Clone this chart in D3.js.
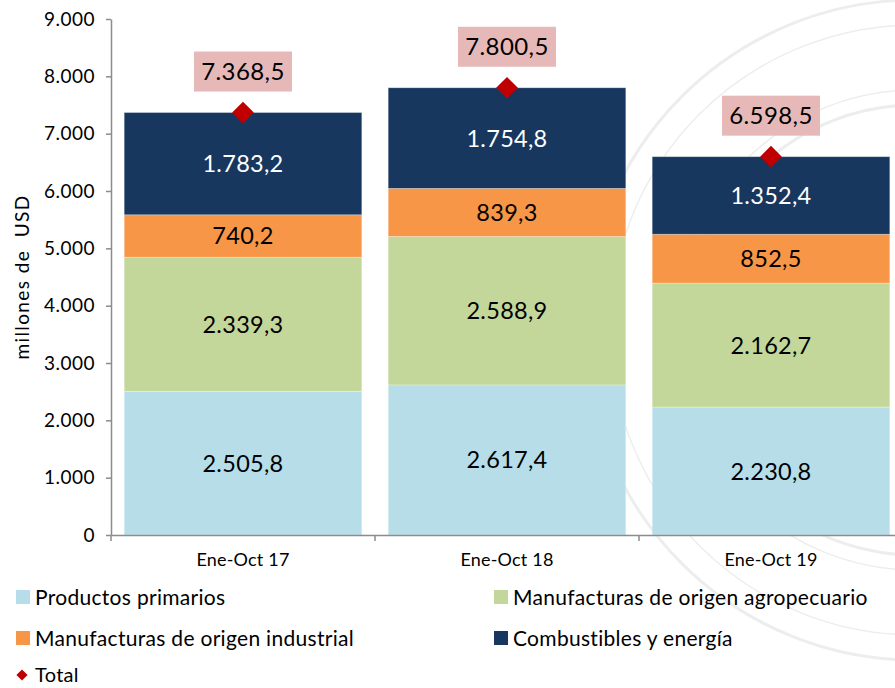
<!DOCTYPE html>
<html>
<head>
<meta charset="utf-8">
<script src="https://cdn.jsdelivr.net/npm/d3@7"></script>
<style>
  html, body { margin: 0; padding: 0; background: #ffffff; }
  svg { display: block; font-family: Lato, "Open Sans", sans-serif; }
</style>
</head>
<body>
<svg id="chart" width="895" height="688"></svg>
<script>
const categories = ["Ene-Oct 17", "Ene-Oct 18", "Ene-Oct 19"];
const seriesNames = ["Productos primarios", "Manufacturas de origen agropecuario", "Manufacturas de origen industrial", "Combustibles y energía"];
const productosPrimarios = [2505.8, 2617.4, 2230.8];
const manufacturasAgro = [2339.3, 2588.9, 2162.7];
const manufacturasIndustrial = [740.2, 839.3, 852.5];
const combustiblesEnergia = [1783.2, 1754.8, 1352.4];
const totals = [7368.5, 7800.5, 6598.5];
const yTicks = [0, 1000, 2000, 3000, 4000, 5000, 6000, 7000, 8000, 9000];

const colors = ["#b7dde8", "#c4d79b", "#f79646", "#17375e"];
const labelColors = ["#000", "#000", "#000", "#fff"];

const svg = d3.select("#chart");

const fmt = d3.formatLocale({decimal: ",", thousands: ".", grouping: [3], currency: ["", ""]});
const f1 = fmt.format(",.1f");
const f0 = fmt.format(",.0f");

// faint watermark seal (decorative)
const wm = svg.append("g").attr("fill", "none").attr("stroke", "#eceeed");
[[330, 3], [305, 1.5], [240, 1.5], [225, 3]].forEach(([r, w]) => {
  wm.append("circle").attr("cx", 915).attr("cy", 330).attr("r", r).attr("stroke-width", w);
});

const x = d3.scaleBand().domain(categories).range([111, 903]).paddingInner(0.1).paddingOuter(0.05);
const y = d3.scaleLinear().domain([0, 9000]).range([535, 19]);

// y axis
const yAxis = d3.axisLeft(y).tickValues(yTicks).tickFormat(d => f0(d)).tickSize(5).tickSizeOuter(0);
const gy = svg.append("g").attr("transform", "translate(111,0)").call(yAxis);
gy.select(".domain").attr("stroke", "#8c8c8c").attr("stroke-width", 1.5);
gy.selectAll(".tick line").attr("stroke", "#8c8c8c").attr("stroke-width", 1.5);
gy.selectAll(".tick text").attr("font-size", 19).attr("letter-spacing", 0.5).attr("fill", "#000").attr("x", -16)
  .attr("font-family", "Lato, sans-serif");

svg.append("text").attr("transform", "translate(29,277) rotate(-90)")
  .attr("text-anchor", "middle").attr("font-size", 19).attr("letter-spacing", 1.4).attr("fill", "#000")
  .attr("xml:space", "preserve").text("millones de  USD");

// stacked bars
const rows = categories.map((c, i) => ({
  cat: c, vals: [productosPrimarios[i], manufacturasAgro[i], manufacturasIndustrial[i], combustiblesEnergia[i]]
}));
const keys = [0, 1, 2, 3];
const stack = d3.stack().keys(keys).value((d, k) => d.vals[k]);
const layers = stack(rows);

layers.forEach((layer, k) => {
  const g = svg.append("g");
  g.selectAll("rect").data(layer).join("rect")
    .attr("x", d => x(d.data.cat))
    .attr("width", x.bandwidth())
    .attr("y", d => y(d[1]))
    .attr("height", d => y(d[0]) - y(d[1]))
    .attr("fill", colors[k])
    .attr("stroke", "#ffffff").attr("stroke-opacity", 0.35).attr("stroke-width", 0.8);
  g.selectAll("text").data(layer).join("text")
    .attr("x", d => x(d.data.cat) + x.bandwidth() / 2)
    .attr("y", d => (y(d[0]) + y(d[1])) / 2)
    .attr("dy", "0.36em")
    .attr("text-anchor", "middle").attr("font-size", 23.5).attr("letter-spacing", 0.3)
    .attr("fill", labelColors[k])
    .text(d => f1(d.data.vals[k]));
});

// x axis
const xAxis = d3.axisBottom(x).tickSize(0).tickSizeOuter(0);
const gx = svg.append("g").attr("transform", "translate(0,535)").call(xAxis);
gx.select(".domain").attr("stroke", "#8c8c8c").attr("stroke-width", 1.5);
gx.selectAll(".tick text").attr("font-size", 18).attr("letter-spacing", 0.2).attr("fill", "#000").attr("dy", 0).attr("y", 31)
  .attr("font-family", "Lato, sans-serif");
const boundaries = [x.range()[0], ...categories.slice(1).map(c => x(c) - x.step() * x.paddingInner() / 2)];
svg.append("g").selectAll("line").data(boundaries).join("line")
  .attr("x1", d => d).attr("x2", d => d).attr("y1", 535).attr("y2", 541)
  .attr("stroke", "#8c8c8c").attr("stroke-width", 1.5);

// total markers & labels
const diamond = d3.symbol().type(d3.symbolDiamond2).size(300);
const tg = svg.append("g");
categories.forEach((c, i) => {
  const cx = x(c) + x.bandwidth() / 2;
  const cy = y(totals[i]);
  tg.append("rect").attr("x", cx - 49).attr("y", cy - 61).attr("width", 98).attr("height", 40)
    .attr("fill", "#e6b9b8");
  tg.append("text").attr("x", cx).attr("y", cy - 41).attr("dy", "0.36em")
    .attr("text-anchor", "middle").attr("font-size", 24).attr("letter-spacing", 0.4).attr("fill", "#000")
    .text(f1(totals[i]));
  tg.append("path").attr("d", diamond).attr("transform", `translate(${cx},${cy})`)
    .attr("fill", "#c00000");
});

// legend
const legendItems = [
  {name: seriesNames[0], color: colors[0], x: 16, y: 597},
  {name: seriesNames[1], color: colors[1], x: 494, y: 597},
  {name: seriesNames[2], color: colors[2], x: 16, y: 638},
  {name: seriesNames[3], color: colors[3], x: 494, y: 638}
];
const lg = svg.append("g");
legendItems.forEach(it => {
  lg.append("rect").attr("x", it.x).attr("y", it.y - 7).attr("width", 14).attr("height", 14).attr("fill", it.color);
  lg.append("text").attr("x", it.x + 19).attr("y", it.y).attr("dy", "0.36em")
    .attr("font-size", 21).attr("letter-spacing", 0.3).attr("fill", "#000").text(it.name);
});
lg.append("path").attr("d", d3.symbol().type(d3.symbolDiamond2).size(80))
  .attr("transform", "translate(22,675)").attr("fill", "#c00000");
lg.append("text").attr("x", 35).attr("y", 675).attr("dy", "0.34em")
  .attr("font-size", 20).attr("letter-spacing", 0.3).attr("fill", "#000").text("Total");
</script>
</body>
</html>
